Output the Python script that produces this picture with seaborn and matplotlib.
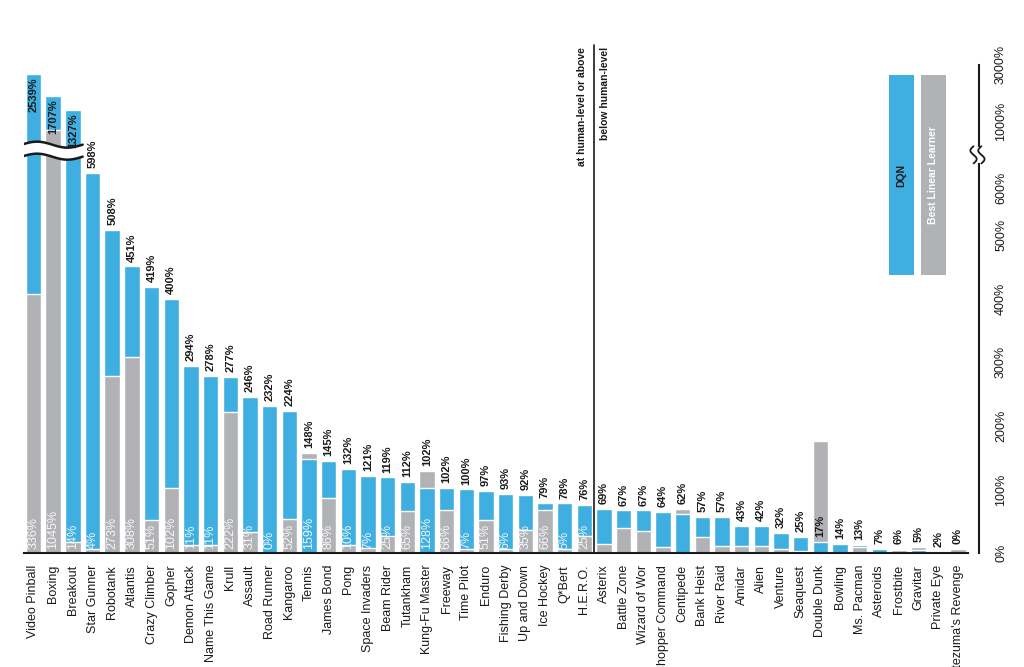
import numpy as np
import pandas as pd
import matplotlib
matplotlib.use("Agg")
import matplotlib.pyplot as plt
import seaborn as sns
from matplotlib.patches import Rectangle

games = ["Video Pinball", "Boxing", "Breakout", "Star Gunner", "Robotank", "Atlantis",
         "Crazy Climber", "Gopher", "Demon Attack", "Name This Game", "Krull", "Assault",
         "Road Runner", "Kangaroo", "Tennis", "James Bond", "Pong", "Space Invaders",
         "Beam Rider", "Tutankham", "Kung-Fu Master", "Freeway", "Time Pilot", "Enduro",
         "Fishing Derby", "Up and Down", "Ice Hockey", "Q*Bert", "H.E.R.O.", "Asterix",
         "Battle Zone", "Wizard of Wor", "Chopper Command", "Centipede", "Bank Heist",
         "River Raid", "Amidar", "Alien", "Venture", "Seaquest", "Double Dunk", "Bowling",
         "Ms. Pacman", "Asteroids", "Frostbite", "Gravitar", "Private Eye",
         "Montezuma's Revenge"]

# DQN score, % of human
dqn = [2539, 1707, 1327, 598, 508, 451, 419, 400, 294, 278, 277, 246, 232, 224, 148, 145,
       132, 121, 119, 112, 102, 102, 100, 97, 93, 92, 79, 78, 76, 69, 67, 67, 64, 62, 57,
       57, 43, 42, 32, 25, 17, 14, 13, 7, 6, 5, 2, 0]

# best linear learner, bar heights as drawn
linear = [407, 1045, 17, 6, 278, 308, 52, 103, 13, 13, 222, 33, 0, 53, 158, 87,
          12, 8, 27, 66, 129, 68, 7, 52, 6, 36, 68, 6, 27, 14, 39, 35, 9, 69, 25,
          11, 11, 11, 7, 3, 177, 0, 10, 0, 4, 10, 0, 6]

# best linear learner, printed values (human-level group only)
linear_pct = [336, 1045, 14, 4, 273, 308, 51, 102, 11, 11, 222, 31, 0, 52, 159, 86,
              10, 7, 25, 65, 128, 66, 7, 51, 6, 35, 66, 5, 25]

y_ticks = [0, 100, 200, 300, 400, 500, 600, 1000, 3000]

BLUE = "#3eafe0"
GRAY = "#b1b2b6"
INK = "#1a1a1a"


def fwd(v):
    v = np.asarray(v, dtype=float)
    mid = 600 + (v - 600) * 0.12
    top = 648 + 2.69 * np.sqrt(np.clip(v - 1000, 0, None))
    return np.where(v <= 600, v, np.where(v <= 1000, mid, top))


def inv(u):
    u = np.asarray(u, dtype=float)
    mid = 600 + (u - 600) / 0.12
    top = 1000 + (np.clip(u - 648, 0, None) / 2.69) ** 2
    return np.where(u <= 600, u, np.where(u <= 648, mid, top))


sns.set_style("white")
plt.rcParams["font.family"] = ["Liberation Sans", "DejaVu Sans"]

df = pd.DataFrame({"game": games, "DQN": dqn, "Linear": linear})
long = df.melt(id_vars="game", var_name="method", value_name="score")
long["rank"] = long.groupby("game")["score"].rank(method="first", ascending=False)
back = long[long["rank"] == 1]
front = long[long["rank"] == 2]

fig = plt.figure(figsize=(10.24, 6.67), dpi=100)
ax = fig.add_axes([0.0231, 0.1709, 0.9330, 0.7691])

pal = {"DQN": BLUE, "Linear": GRAY}
for layer in (back, front):
    sns.barplot(data=layer, x="game", y="score", hue="method", order=games,
                hue_order=["DQN", "Linear"], palette=pal, dodge=False, width=0.78,
                errorbar=None, legend=False, saturation=1, ax=ax)

ax.set_yscale("function", functions=(fwd, inv))
ax.set_ylim(0, 4500)
xmax = 48.07
ax.set_xlim(-0.5, xmax)
ax.set_xlabel("")
ax.set_ylabel("")

# x axis: ticks between bars, names under bars
n = len(games)
ax.set_xticks(np.arange(-0.5, n), labels=[])
ax.set_xticks(np.arange(n), labels=games, minor=True)
ax.tick_params(axis="x", which="major", length=6.5, width=1.2, direction="out", colors=INK)
ax.tick_params(axis="x", which="minor", length=0, pad=8.5, labelsize=9,
               labelrotation=90, labelcolor=INK)

# y axis on the right
ax.yaxis.tick_right()
ax.set_yticks(y_ticks, labels=[f"{t}%" for t in y_ticks])
ax.yaxis.set_minor_locator(matplotlib.ticker.NullLocator())
ax.tick_params(axis="y", which="major", length=6.5, width=1.2, direction="out",
               pad=5, labelsize=9, labelrotation=90, colors=INK)
for t, lab in zip(y_ticks, ax.get_yticklabels()):
    # labels either side of the break are pushed away from it
    lab.set_va("bottom" if t == 1000 else "top" if t == 600 else "center")

sns.despine(ax=ax, left=True, top=True, right=False, bottom=False)
ax.spines["right"].set_bounds(0, 3000)
ax.spines["bottom"].set_bounds(-0.5, n - 0.5)
for s in ("right", "bottom"):
    ax.spines[s].set_linewidth(1.5)
    ax.spines[s].set_color(INK)

# break across the three tallest bars
xs = np.linspace(-0.6, 2.5, 120)
wave = 4.7 * np.sin(2 * np.pi * (xs + 0.6) / 3.1)
upper = 642.5 + wave
lower = 623.6 + wave
ax.fill_between(xs, inv(lower), inv(upper), color="white", zorder=4, lw=0)
ax.plot(xs, inv(upper), color=INK, lw=1.8, zorder=5)
ax.plot(xs, inv(lower), color=INK, lw=1.8, zorder=5)

# break on the right spine
ax.plot([xmax, xmax], [720, 925], color="white", lw=4, zorder=5, clip_on=False,
        solid_capstyle="butt")
us = np.linspace(613, 640, 60)
s_curve = 0.16 * np.sin(2 * np.pi * (us - 613) / 27)
for dx in (-0.28, 0.12):
    ax.plot(xmax + dx + s_curve, inv(us), color=INK, lw=1.3, zorder=6, clip_on=False)

# DQN value labels
for i, (d, l) in enumerate(zip(dqn, linear)):
    if d > 1000:
        ax.annotate(f"{d}%", (i, d), xytext=(0, -2.5), textcoords="offset points",
                    rotation=90, ha="center", va="top", fontsize=8, fontweight="bold",
                    color=INK, zorder=7)
    else:
        anchor = max(d, l) if l - d < 50 else d
        ax.annotate(f"{d}%", (i, anchor), xytext=(0, 3.5), textcoords="offset points",
                    rotation=90, ha="center", va="bottom", fontsize=8, fontweight="bold",
                    color=INK, zorder=7)

# linear learner labels at the base
for i, p in enumerate(linear_pct):
    ax.annotate(f"{p}%", (i, 0), xytext=(0, 3), textcoords="offset points",
                rotation=90, ha="center", va="bottom", fontsize=9, color="white",
                alpha=0.9, zorder=7)

# human-level divider
ax.axvline(28.5, ymin=0, ymax=0.99, color=INK, lw=1.2)
ax.annotate("at human-level or above", xy=(28.5, 0.986), xycoords=("data", "axes fraction"),
            xytext=(-8.5, 0), textcoords="offset points", rotation=90, ha="center",
            va="top", fontsize=7.5, fontweight="bold", color=INK)
ax.annotate("below human-level", xy=(28.5, 0.986), xycoords=("data", "axes fraction"),
            xytext=(7.5, 0), textcoords="offset points", rotation=90, ha="center",
            va="top", fontsize=7.5, fontweight="bold", color=INK)

# legend as two tall swatches
fig.add_artist(Rectangle((0.868, 0.588), 0.0244, 0.300, transform=fig.transFigure,
                         color=BLUE, lw=0))
fig.add_artist(Rectangle((0.8994, 0.588), 0.0244, 0.300, transform=fig.transFigure,
                         color=GRAY, lw=0))
fig.text(0.8804, 0.7376, "DQN", rotation=90, ha="center", va="center", fontsize=7.5,
         fontweight="bold", color=INK)
fig.text(0.9116, 0.7376, "Best Linear Learner", rotation=90, ha="center", va="center",
         fontsize=7.5, fontweight="bold", color="white")

fig.savefig("out.png", dpi=100)
